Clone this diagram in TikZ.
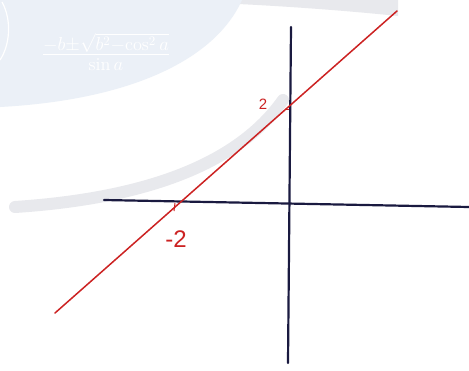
\documentclass[tikz,border=0pt]{standalone}
\usepackage{fontspec}
\setsansfont{Liberation Sans}
\definecolor{wmblue}{HTML}{EBF0F7}
\definecolor{wmgray}{HTML}{E8E9ED}
\definecolor{penred}{HTML}{CC2222}
\definecolor{penblue}{HTML}{1A1A40}
\tikzset{
  axisline/.style={draw=penblue, line width=2.2pt, line cap=round},
  graphline/.style={draw=penred, line width=1.5pt, line cap=round},
  ticklabel/.style={text=penred, font=\sffamily},
  tickmark/.style={draw=penred, line width=1pt}
}
\begin{document}
\begin{tikzpicture}[x=1pt,y=-1pt]
\useasboundingbox (0,0) rectangle (469,370);
\fill[white] (0,0) rectangle (469,370);
% watermark
\fill[wmgray] (230,0) -- (398,0) -- (398,16) .. controls (340,10) and (280,6) .. (238,4) -- cycle;
\fill[wmblue] (0,0) -- (242,0) .. controls (215,60) and (130,100) .. (0,107) -- cycle;
\draw[wmgray, line width=12pt, line cap=round] (15,207) .. controls (120,200) and (230,175) .. (283,100);
\draw[white, line width=1.2pt] (2,2) .. controls (12,20) and (10,45) .. (0,60);
\node[text=white, font=\fontsize{20}{22}\selectfont, scale=1.3] (formula) at (106,52) {$\frac{-b\pm\sqrt{b^2-\cos^2 a}}{\sin a}$};
% axes
\coordinate (xl) at (104,200);
\coordinate (xr) at (469,207);
\coordinate (yt) at (291,27);
\coordinate (yb) at (288,363);
\draw[axisline] (xl) -- (xr);
\draw[axisline] (yt) -- (yb);
% line y = x + 2
\coordinate (la) at (55,313);
\coordinate (lb) at (397,11);
\draw[graphline] (la) -- (lb);
% ticks
\coordinate (tx) at (175,203);
\coordinate (ty) at (289,109);
\draw[tickmark] (tx) -- ++(-1,8);
\draw[tickmark] (ty) -- ++(-4,0);
\node[ticklabel, font=\sffamily\fontsize{15}{15}\selectfont] (two) at (263,104) {2};
\node[ticklabel, font=\sffamily\fontsize{24}{24}\selectfont] (mtwo) at (176,239) {-2};
\end{tikzpicture}
\end{document}
